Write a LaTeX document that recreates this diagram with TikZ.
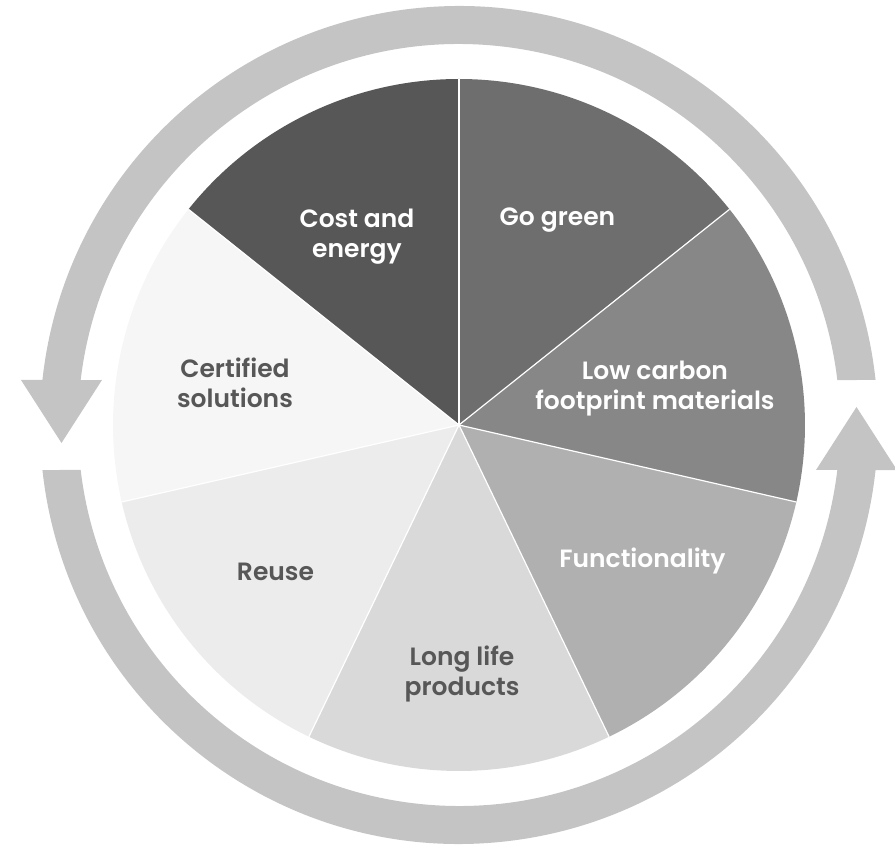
\documentclass[tikz,border=0pt]{standalone}
\usepackage{fontspec}
\newfontfamily\pop{Poppins SemiBold}
\definecolor{sCost}{HTML}{575757}
\definecolor{sGreen}{HTML}{6E6E6E}
\definecolor{sLow}{HTML}{878787}
\definecolor{sFun}{HTML}{B0B0B0}
\definecolor{sLong}{HTML}{D9D9D9}
\definecolor{sReuse}{HTML}{ECECEC}
\definecolor{sCert}{HTML}{F6F6F6}
\definecolor{ringgray}{HTML}{C4C4C4}
\definecolor{txtdark}{HTML}{575757}
\begin{document}
\begin{tikzpicture}[x=1pt,y=1pt,
  lbl/.style={font=\pop\fontsize{25}{30}\selectfont, align=center, inner sep=0pt},
  lightlbl/.style={lbl, text=white},
  darklbl/.style={lbl, text=txtdark},
  sep/.style={draw=white, line width=1.2pt}]
\useasboundingbox (-459,-421) rectangle (436,425);
\def\R{346}
% sectors
\fill[sCost]  (0,0) -- (90:\R) arc[start angle=90, end angle=141.43, radius=\R] -- cycle;
\fill[sCert]  (0,0) -- (141.43:\R) arc[start angle=141.43, end angle=192.86, radius=\R] -- cycle;
\fill[sReuse] (0,0) -- (192.86:\R) arc[start angle=192.86, end angle=244.29, radius=\R] -- cycle;
\fill[sLong]  (0,0) -- (244.29:\R) arc[start angle=244.29, end angle=295.71, radius=\R] -- cycle;
\fill[sFun]   (0,0) -- (295.71:\R) arc[start angle=295.71, end angle=347.14, radius=\R] -- cycle;
\fill[sLow]   (0,0) -- (347.14:\R) arc[start angle=347.14, end angle=398.57, radius=\R] -- cycle;
\fill[sGreen] (0,0) -- (38.57:\R) arc[start angle=38.57, end angle=90, radius=\R] -- cycle;
\coordinate (c) at (0,0);
\foreach \a in {90,141.43,192.86,244.29,295.71,347.14,38.57}
  \draw[sep] (c) -- (\a:\R);
% circular arrows
\foreach \rot in {0,180}{
\begin{scope}[rotate=\rot]
\fill[ringgray] (6.17:419) arc[start angle=6.17, end angle=173.83, radius=419]
  -- (-438,45) -- (-397.5,-18) -- (-357,45)
  -- (173.22:381) arc[start angle=173.22, end angle=6.78, radius=381] -- cycle;
\end{scope}}
% labels
\node[lightlbl] (cost) at (-102,188) {Cost and\\energy};
\node[lightlbl] (green) at (98.5,204.5) {Go green};
\node[lightlbl] (low) at (196,36) {Low carbon\\footprint materials};
\node[lightlbl] (fun) at (183.5,-136) {Functionality};
\node[darklbl] (cert) at (-224,42) {Certified\\solutions};
\node[darklbl] (reuse) at (-183.5,-147) {Reuse};
\node[darklbl] (long) at (3,-249) {Long life\\products};
\end{tikzpicture}
\end{document}
